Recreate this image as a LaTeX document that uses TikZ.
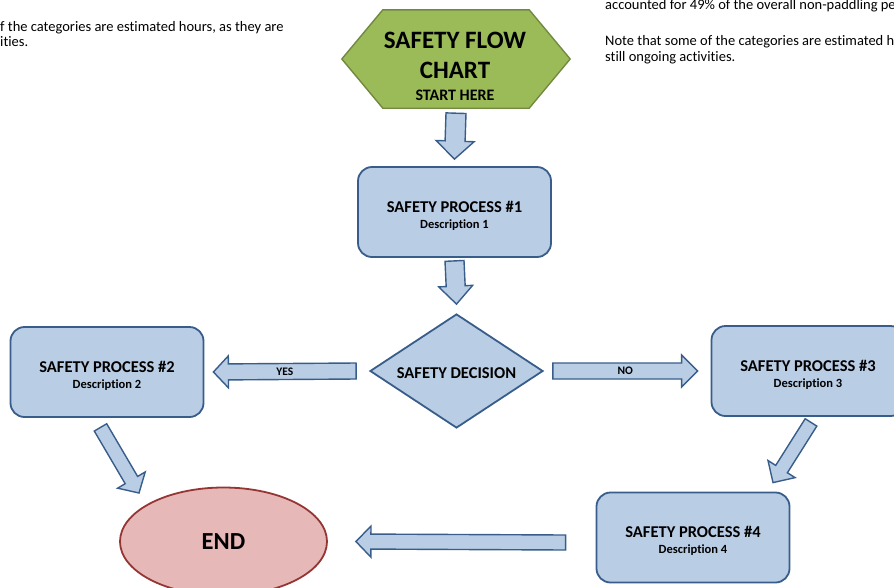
\documentclass[tikz,border=0pt]{standalone}
\usepackage{fontspec}
\setmainfont{Carlito}[Ligatures=NoCommon]
\usetikzlibrary{calc,shapes.geometric}
\definecolor{boxfill}{HTML}{B9CDE5}
\definecolor{boxline}{HTML}{385D8A}
\definecolor{hexfill}{HTML}{9BBB59}
\definecolor{hexline}{HTML}{71893F}
\definecolor{endfill}{HTML}{E6B9B8}
\definecolor{endline}{HTML}{943634}
\newcommand\desctext{\fontsize{12.5}{14}\selectfont}
\newcommand\topstrut[1]{\rule{0pt}{#1}}
% #1 start, #2 tip, #3 shaft half width, #4 head half width, #5 head length, #6 label
\newcommand\blockarrow[6]{%
  \path ($(#2)!#5!(#1)$) coordinate (h);
  \draw[blockar] ($(#1)!#3!90:(#2)$) -- ($(h)!#3!90:(#2)$) -- ($(h)!#4!90:(#2)$) -- (#2)
     -- ($(h)!#4!-90:(#2)$) -- ($(h)!#3!-90:(#2)$) -- ($(#1)!#3!-90:(#2)$) -- cycle;
  \node[arlabel] at ($(#1)!0.5!(#2)$) {#6};
}
\begin{document}
\begin{tikzpicture}[x=1pt,y=-1pt,
  blockar/.style={fill=boxfill,draw=boxline,line width=1.4pt,line join=miter},
  arlabel/.style={font=\bfseries\fontsize{11.5}{12}\selectfont,inner sep=0pt},
  procbox/.style={rectangle,rounded corners=14pt,fill=boxfill,draw=boxline,line width=1.8pt,
     minimum width=193pt,minimum height=90pt,align=center,
     font=\bfseries\fontsize{16.5}{18}\selectfont},
  plaintext/.style={anchor=base west,inner sep=0pt,font=\fontsize{14.5}{16}\selectfont}]
\useasboundingbox (0,0) rectangle (894,587);
\clip (0,0) rectangle (894,587);

% background notes
\node[plaintext] (n1) at (0,31) {f the categories are estimated hours, as they are};
\node[plaintext] (n2) at (0,46) {ities.};
\node[plaintext] (n3) at (605,9) {accounted for 49\% of the overall non-paddling pe};
\node[plaintext] (n4) at (605,45) {Note that some of the categories are estimated h};
\node[plaintext] (n5) at (605,61) {still ongoing activities.};

% start hexagon
\node[minimum width=228pt,minimum height=98pt,inner sep=0pt] (start) at (456,59) {};
\draw[fill=hexfill,draw=hexline,line width=1.4pt]
  (start.west) -- ($(start.north west)+(41,0)$) -- ($(start.north east)+(-41,0)$)
  -- (start.east) -- ($(start.south east)+(-41,0)$) -- ($(start.south west)+(41,0)$) -- cycle;
\node[align=center,inner sep=0pt,font=\bfseries\fontsize{25}{30}\selectfont] (starttxt) at (455,66)
  {SAFETY FLOW\\CHART\\[-8pt]{\fontsize{16}{18}\selectfont START HERE}};

% process boxes
\node[procbox] (p1) at (454.5,212) {\topstrut{18pt}SAFETY PROCESS \#1\\[-2pt]{\desctext Description 1}};
\node[procbox] (p2) at (107,372) {\topstrut{18pt}SAFETY PROCESS \#2\\[-2pt]{\desctext Description 2}};
\node[procbox] (p3) at (808,371) {\topstrut{18pt}SAFETY PROCESS \#3\\[-2pt]{\desctext Description 3}};
\node[procbox] (p4) at (693,537.5) {\topstrut{18pt}SAFETY PROCESS \#4\\[-2pt]{\desctext Description 4}};

% decision
\node[diamond,aspect=1.52,inner sep=0pt,minimum width=173pt,minimum height=114pt,
  fill=boxfill,draw=boxline,line width=1.8pt,font=\bfseries\fontsize{16.5}{18}\selectfont]
  (dec) at (456.5,371) {\topstrut{15pt}SAFETY DECISION};

% end
\node[ellipse,minimum width=207pt,minimum height=108pt,fill=endfill,draw=endline,line width=1.8pt,
  font=\bfseries\fontsize{24.5}{28}\selectfont] (end) at (223.5,541.5) {END};

% connectors
\coordinate (a1s) at ($(start.south)+(0,5)$);
\coordinate (a1e) at ($(p1.north)+(0,-7)$);
\blockarrow{a1s}{a1e}{10pt}{19pt}{18pt}{}
\coordinate (a2s) at ($(p1.south)+(0,3)$);
\coordinate (a2e) at ($(dec.north)+(0,-9)$);
\blockarrow{a2s}{a2e}{9.5pt}{17pt}{18pt}{}
\coordinate (ays) at ($(dec.west)+(-13,0)$);
\coordinate (aye) at ($(p2.east)+(9,0)$);
\blockarrow{ays}{aye}{8pt}{16pt}{15pt}{YES}
\coordinate (ans) at ($(dec.east)+(9,0)$);
\coordinate (ane) at ($(p3.west)+(-13,0)$);
\blockarrow{ans}{ane}{8pt}{16pt}{16pt}{NO}
\coordinate (ad1s) at ($(p2.south)+(-6.5,9.5)$);
\coordinate (ad1e) at ($(end.center)+(-84.5,-48.5)$);
\blockarrow{ad1s}{ad1e}{7.2pt}{16pt}{15pt}{}
\coordinate (ad2s) at ($(p3.south)+(3,5.5)$);
\coordinate (ad2e) at ($(p4.north)+(80,-9)$);
\blockarrow{ad2s}{ad2e}{6.9pt}{16pt}{16pt}{}
\coordinate (abs) at ($(p4.west)+(-30,5)$);
\coordinate (abe) at ($(end.east)+(28,0)$);
\blockarrow{abs}{abe}{7.5pt}{15.5pt}{15pt}{}
\end{tikzpicture}
\end{document}
